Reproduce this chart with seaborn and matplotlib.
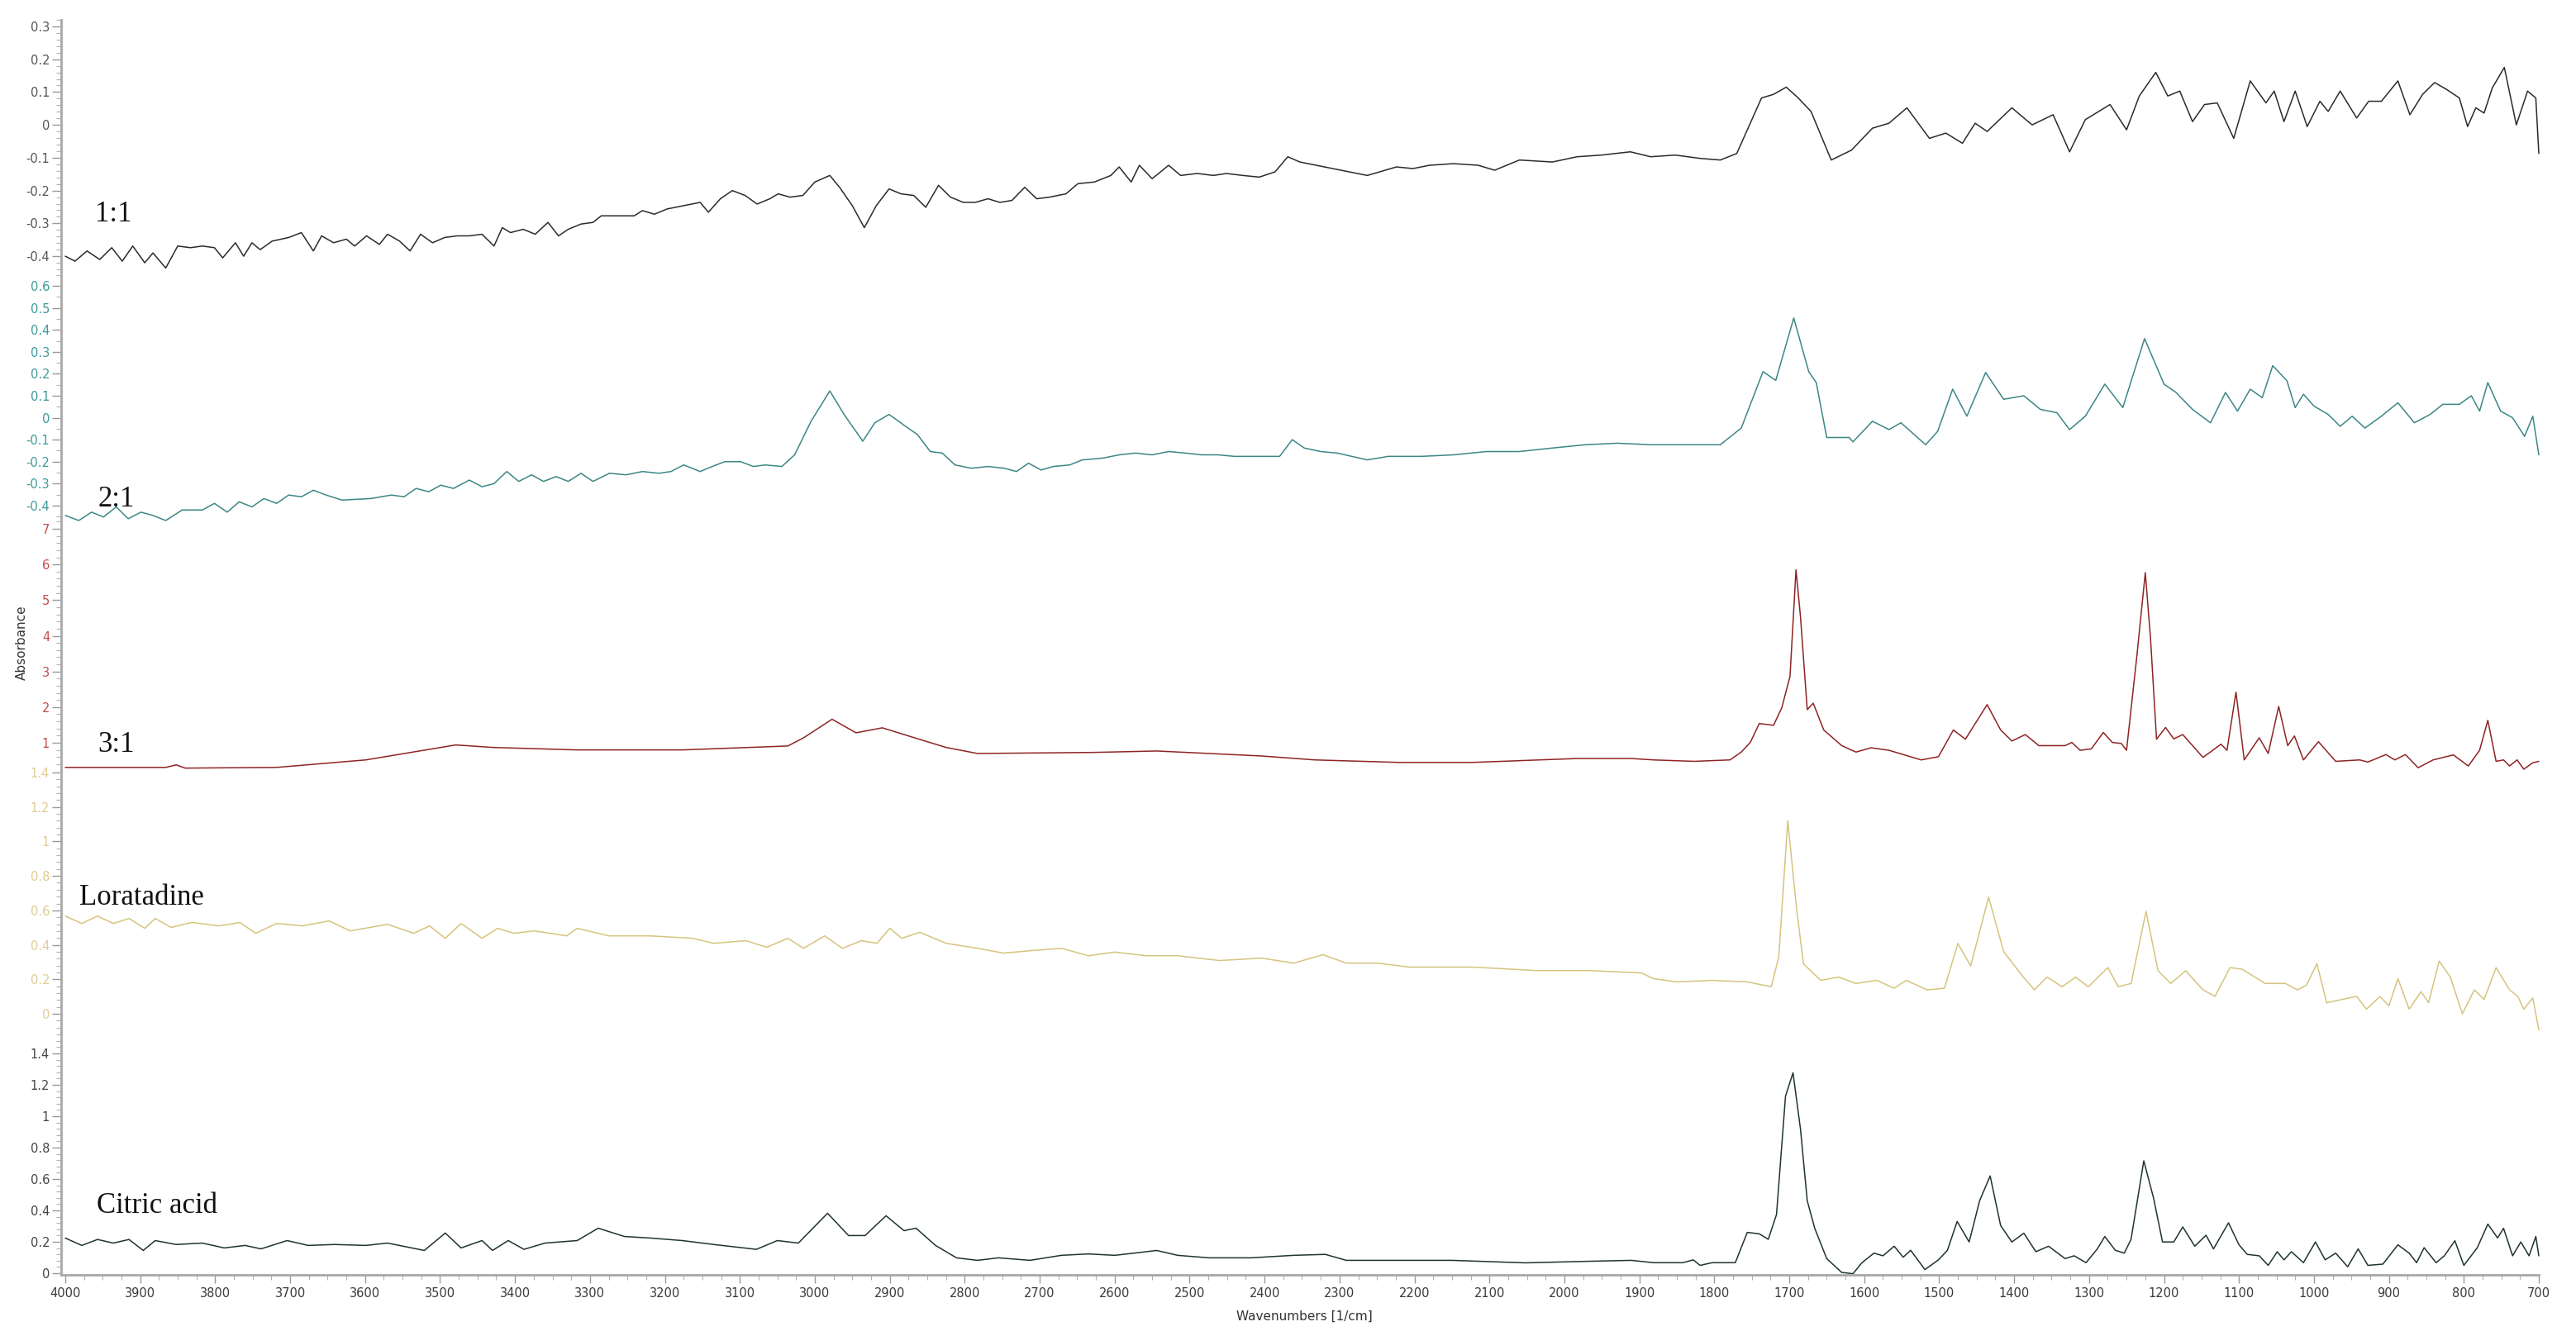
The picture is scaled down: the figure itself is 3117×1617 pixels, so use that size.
import numpy as np
import pandas as pd
import matplotlib
matplotlib.use('Agg')
import matplotlib.pyplot as plt
from matplotlib.ticker import AutoMinorLocator, MultipleLocator
import seaborn as sns

# FTIR spectra, values (wavenumber in 1/cm, absorbance)
wn_11 = [4000, 3987, 3971, 3954, 3938, 3924, 3910, 3894, 3883, 3866, 3850, 3833, 3817, 3801, 3790,
         3773, 3762, 3751, 3740, 3724, 3702, 3685, 3669, 3658, 3642, 3625, 3614, 3598, 3581, 3570,
         3554, 3540, 3526, 3510, 3494, 3477, 3461, 3444, 3428, 3417, 3406, 3389, 3373, 3356, 3342,
         3329, 3312, 3296, 3285, 3263, 3241, 3230, 3214, 3197, 3175, 3153, 3142, 3126, 3110, 3093,
         3077, 3060, 3049, 3033, 3016, 3000, 2980, 2967, 2950, 2934, 2918, 2901, 2885, 2868, 2852,
         2835, 2819, 2802, 2786, 2769, 2753, 2737, 2720, 2704, 2687, 2665, 2649, 2627, 2605, 2594,
         2578, 2567, 2550, 2528, 2512, 2490, 2468, 2451, 2429, 2407, 2386, 2369, 2353, 2331, 2309,
         2263, 2224, 2202, 2180, 2148, 2115, 2093, 2060, 2016, 1983, 1951, 1912, 1885, 1852, 1819,
         1792, 1770, 1753, 1737, 1721, 1704, 1688, 1671, 1644, 1617, 1589, 1567, 1543, 1513, 1491,
         1469, 1452, 1436, 1403, 1376, 1348, 1326, 1305, 1272, 1250, 1233, 1211, 1195, 1179, 1162,
         1146, 1129, 1107, 1085, 1064, 1053, 1040, 1025, 1009, 992, 981, 965, 943, 927, 910,
         888, 872, 855, 839, 823, 806, 795, 784, 773, 762, 746, 730, 715, 704, 700]
ab_11 = [-0.400, -0.415, -0.384, -0.410, -0.374, -0.415, -0.369, -0.420, -0.390, -0.436, -0.369, -0.374, -0.369, -0.374, -0.405,
         -0.359, -0.400, -0.359, -0.380, -0.354, -0.343, -0.328, -0.384, -0.338, -0.359, -0.348, -0.369, -0.338, -0.364, -0.333,
         -0.354, -0.384, -0.333, -0.359, -0.343, -0.338, -0.338, -0.333, -0.369, -0.313, -0.328, -0.318, -0.333, -0.297, -0.338,
         -0.318, -0.302, -0.297, -0.277, -0.277, -0.277, -0.261, -0.272, -0.256, -0.246, -0.236, -0.266, -0.225, -0.200, -0.215,
         -0.241, -0.225, -0.210, -0.220, -0.215, -0.174, -0.154, -0.190, -0.246, -0.313, -0.246, -0.195, -0.210, -0.215, -0.251,
         -0.184, -0.220, -0.236, -0.236, -0.225, -0.236, -0.230, -0.190, -0.225, -0.220, -0.210, -0.179, -0.174, -0.154, -0.128,
         -0.174, -0.123, -0.164, -0.123, -0.154, -0.148, -0.154, -0.148, -0.154, -0.159, -0.143, -0.097, -0.113, -0.123, -0.133,
         -0.154, -0.128, -0.133, -0.123, -0.118, -0.123, -0.138, -0.107, -0.113, -0.097, -0.092, -0.082, -0.097, -0.092, -0.102,
         -0.107, -0.087, 0.000, 0.082, 0.093, 0.115, 0.082, 0.041, -0.107, -0.077, -0.010, 0.005, 0.052, -0.041, -0.025,
         -0.056, 0.005, -0.020, 0.052, 0.000, 0.031, -0.082, 0.016, 0.062, -0.015, 0.088, 0.160, 0.088, 0.103, 0.010,
         0.062, 0.067, -0.041, 0.134, 0.067, 0.103, 0.010, 0.103, -0.005, 0.072, 0.041, 0.103, 0.021, 0.072, 0.072,
         0.134, 0.031, 0.093, 0.129, 0.108, 0.082, -0.005, 0.052, 0.036, 0.113, 0.175, 0.000, 0.103, 0.082, -0.087]

wn_21 = [4000, 3982, 3965, 3949, 3932, 3916, 3899, 3883, 3866, 3844, 3817, 3801, 3784, 3768, 3751,
         3735, 3718, 3702, 3685, 3669, 3652, 3631, 3592, 3565, 3548, 3532, 3515, 3499, 3482, 3461,
         3444, 3428, 3411, 3395, 3378, 3362, 3345, 3329, 3312, 3296, 3274, 3252, 3230, 3208, 3192,
         3175, 3153, 3137, 3120, 3099, 3082, 3066, 3044, 3027, 3005, 2980, 2961, 2936, 2920, 2901,
         2879, 2863, 2846, 2830, 2813, 2791, 2769, 2747, 2731, 2715, 2698, 2682, 2660, 2643, 2616,
         2594, 2572, 2550, 2528, 2506, 2484, 2462, 2440, 2418, 2396, 2380, 2363, 2347, 2325, 2303,
         2263, 2235, 2191, 2148, 2104, 2060, 2016, 1972, 1929, 1885, 1841, 1792, 1764, 1735, 1718,
         1694, 1674, 1664, 1650, 1620, 1615, 1589, 1567, 1551, 1518, 1502, 1482, 1463, 1438, 1414,
         1387, 1365, 1343, 1326, 1305, 1279, 1255, 1226, 1200, 1184, 1162, 1138, 1118, 1102, 1085,
         1069, 1055, 1036, 1025, 1014, 1000, 981, 965, 949, 932, 910, 888, 866, 845, 828,
         806, 790, 779, 768, 751, 735, 719, 708, 700]
ab_21 = [-0.445, -0.468, -0.430, -0.452, -0.406, -0.460, -0.430, -0.445, -0.468, -0.420, -0.420, -0.390, -0.430, -0.383, -0.406,
         -0.368, -0.390, -0.352, -0.360, -0.330, -0.352, -0.375, -0.368, -0.352, -0.360, -0.322, -0.337, -0.307, -0.322, -0.284,
         -0.314, -0.300, -0.245, -0.290, -0.260, -0.290, -0.268, -0.290, -0.253, -0.290, -0.253, -0.260, -0.245, -0.253, -0.245,
         -0.215, -0.245, -0.222, -0.200, -0.200, -0.222, -0.215, -0.222, -0.169, -0.016, 0.122, 0.015, -0.107, -0.023, 0.015,
         -0.039, -0.077, -0.154, -0.161, -0.215, -0.230, -0.222, -0.230, -0.245, -0.207, -0.238, -0.222, -0.215, -0.192, -0.184,
         -0.169, -0.161, -0.169, -0.154, -0.161, -0.169, -0.169, -0.176, -0.176, -0.176, -0.176, -0.100, -0.138, -0.154, -0.161,
         -0.192, -0.176, -0.176, -0.169, -0.154, -0.154, -0.138, -0.123, -0.116, -0.123, -0.123, -0.123, -0.047, 0.210, 0.170,
         0.454, 0.210, 0.160, -0.090, -0.090, -0.110, -0.016, -0.054, -0.023, -0.123, -0.062, 0.130, 0.007, 0.206, 0.084,
         0.100, 0.038, 0.023, -0.054, 0.007, 0.153, 0.046, 0.360, 0.153, 0.115, 0.038, -0.023, 0.115, 0.030, 0.130,
         0.091, 0.237, 0.168, 0.046, 0.107, 0.053, 0.015, -0.039, 0.007, -0.047, 0.007, 0.068, -0.023, 0.015, 0.061,
         0.061, 0.100, 0.030, 0.160, 0.030, 0.000, -0.085, 0.007, -0.169]

wn_31 = [4000, 3866, 3852, 3840, 3718, 3599, 3479, 3430, 3317, 3177, 3036, 3015, 2977, 2945, 2910,
         2867, 2825, 2783, 2628, 2544, 2474, 2404, 2333, 2221, 2122, 1982, 1911, 1881, 1827, 1779,
         1764, 1752, 1740, 1721, 1710, 1699, 1691, 1685, 1676, 1668, 1654, 1630, 1611, 1591, 1567,
         1524, 1501, 1481, 1465, 1436, 1418, 1403, 1385, 1367, 1332, 1323, 1312, 1297, 1281, 1269,
         1257, 1250, 1236, 1225, 1218, 1210, 1198, 1187, 1175, 1148, 1124, 1116, 1104, 1093, 1073,
         1061, 1047, 1035, 1026, 1014, 994, 971, 939, 928, 904, 892, 878, 861, 841, 814,
         794, 779, 768, 757, 747, 739, 729, 720, 708, 700]
ab_31 = [0.31, 0.31, 0.38, 0.29, 0.31, 0.52, 0.94, 0.87, 0.80, 0.80, 0.91, 1.14, 1.66, 1.28, 1.42,
         1.14, 0.87, 0.70, 0.73, 0.77, 0.70, 0.63, 0.52, 0.45, 0.45, 0.56, 0.56, 0.52, 0.48, 0.52,
         0.74, 1.01, 1.54, 1.49, 1.98, 2.86, 5.85, 4.53, 1.93, 2.11, 1.36, 0.92, 0.74, 0.86, 0.79,
         0.52, 0.61, 1.36, 1.10, 2.07, 1.36, 1.05, 1.23, 0.92, 0.92, 1.01, 0.79, 0.83, 1.29, 1.01,
         0.98, 0.79, 3.48, 5.77, 3.92, 1.10, 1.43, 1.11, 1.23, 0.59, 0.96, 0.79, 2.42, 0.52, 1.14,
         0.70, 2.02, 0.92, 1.19, 0.52, 1.03, 0.48, 0.52, 0.46, 0.67, 0.52, 0.67, 0.30, 0.52, 0.66,
         0.35, 0.79, 1.63, 0.48, 0.52, 0.35, 0.52, 0.26, 0.44, 0.48]

wn_lor = [4000, 3978, 3957, 3936, 3915, 3894, 3880, 3859, 3831, 3795, 3767, 3746, 3718, 3683, 3648,
          3620, 3570, 3535, 3514, 3493, 3472, 3444, 3423, 3402, 3374, 3331, 3317, 3275, 3219, 3163,
          3135, 3092, 3064, 3036, 3015, 2987, 2963, 2938, 2917, 2900, 2884, 2860, 2825, 2783, 2748,
          2713, 2671, 2635, 2600, 2558, 2516, 2460, 2404, 2361, 2322, 2291, 2249, 2207, 2122, 2038,
          1968, 1897, 1881, 1850, 1803, 1756, 1724, 1714, 1702, 1690, 1681, 1658, 1634, 1611, 1583,
          1560, 1544, 1516, 1493, 1475, 1458, 1434, 1414, 1391, 1373, 1356, 1336, 1318, 1301, 1275,
          1261, 1244, 1224, 1208, 1191, 1171, 1148, 1132, 1112, 1096, 1065, 1038, 1022, 1010, 996,
          983, 963, 943, 930, 912, 900, 888, 873, 857, 847, 833, 818, 802, 786, 773,
          757, 739, 728, 720, 708, 700]
ab_lor = [0.567, 0.524, 0.567, 0.524, 0.553, 0.496, 0.553, 0.501, 0.530, 0.510, 0.530, 0.467, 0.524, 0.510, 0.539,
          0.481, 0.519, 0.467, 0.510, 0.438, 0.524, 0.438, 0.496, 0.467, 0.481, 0.452, 0.496, 0.452, 0.452, 0.438,
          0.409, 0.424, 0.386, 0.438, 0.380, 0.452, 0.380, 0.424, 0.409, 0.496, 0.438, 0.473, 0.409, 0.380, 0.352,
          0.366, 0.380, 0.337, 0.358, 0.337, 0.337, 0.309, 0.323, 0.294, 0.343, 0.294, 0.294, 0.271, 0.271, 0.251,
          0.251, 0.237, 0.204, 0.185, 0.194, 0.185, 0.157, 0.330, 1.120, 0.600, 0.290, 0.194, 0.213, 0.176, 0.194,
          0.148, 0.194, 0.139, 0.148, 0.408, 0.278, 0.677, 0.361, 0.231, 0.139, 0.213, 0.157, 0.213, 0.157, 0.268,
          0.157, 0.176, 0.594, 0.250, 0.176, 0.250, 0.139, 0.101, 0.268, 0.259, 0.176, 0.176, 0.139, 0.166, 0.291,
          0.064, 0.083, 0.101, 0.027, 0.101, 0.046, 0.204, 0.027, 0.129, 0.064, 0.306, 0.213, 0.000, 0.139, 0.083,
          0.268, 0.139, 0.101, 0.027, 0.092, -0.094]

wn_cit = [4000, 3978, 3957, 3936, 3915, 3896, 3880, 3852, 3817, 3788, 3760, 3739, 3704, 3676, 3641,
          3599, 3570, 3521, 3493, 3472, 3444, 3430, 3409, 3388, 3360, 3317, 3289, 3254, 3219, 3177,
          3135, 3078, 3050, 3022, 2983, 2955, 2933, 2905, 2881, 2865, 2839, 2811, 2783, 2755, 2713,
          2671, 2635, 2600, 2572, 2544, 2516, 2474, 2418, 2361, 2319, 2291, 2221, 2150, 2052, 1968,
          1911, 1881, 1842, 1828, 1819, 1803, 1772, 1756, 1740, 1728, 1717, 1705, 1695, 1685, 1676,
          1666, 1650, 1630, 1615, 1603, 1587, 1575, 1560, 1548, 1538, 1519, 1501, 1489, 1476, 1460,
          1446, 1432, 1418, 1403, 1387, 1371, 1354, 1332, 1320, 1304, 1289, 1279, 1265, 1253, 1244,
          1227, 1214, 1202, 1187, 1175, 1159, 1144, 1134, 1114, 1100, 1089, 1073, 1061, 1049, 1040,
          1030, 1014, 998, 985, 971, 955, 941, 928, 908, 888, 873, 863, 853, 837, 826,
          812, 800, 782, 768, 755, 747, 735, 724, 713, 704, 700]
ab_cit = [0.224, 0.177, 0.215, 0.192, 0.215, 0.145, 0.208, 0.183, 0.192, 0.161, 0.177, 0.155, 0.208, 0.177, 0.183,
          0.177, 0.192, 0.145, 0.256, 0.161, 0.208, 0.145, 0.208, 0.152, 0.192, 0.208, 0.287, 0.234, 0.224, 0.208,
          0.183, 0.152, 0.208, 0.192, 0.382, 0.240, 0.240, 0.366, 0.271, 0.287, 0.177, 0.098, 0.082, 0.098, 0.082,
          0.114, 0.123, 0.114, 0.129, 0.145, 0.114, 0.098, 0.098, 0.114, 0.120, 0.082, 0.082, 0.082, 0.066, 0.076,
          0.082, 0.067, 0.067, 0.085, 0.050, 0.067, 0.067, 0.260, 0.251, 0.216, 0.374, 1.128, 1.277, 0.918, 0.462,
          0.286, 0.093, 0.005, -0.003, 0.067, 0.128, 0.111, 0.172, 0.102, 0.146, 0.023, 0.085, 0.146, 0.330, 0.199,
          0.462, 0.620, 0.304, 0.199, 0.255, 0.137, 0.172, 0.093, 0.111, 0.067, 0.155, 0.234, 0.146, 0.128, 0.216,
          0.716, 0.479, 0.199, 0.199, 0.295, 0.172, 0.242, 0.155, 0.321, 0.181, 0.120, 0.111, 0.050, 0.137, 0.085,
          0.137, 0.067, 0.199, 0.085, 0.128, 0.041, 0.155, 0.050, 0.058, 0.181, 0.128, 0.067, 0.163, 0.067, 0.111,
          0.207, 0.050, 0.163, 0.313, 0.225, 0.286, 0.111, 0.199, 0.111, 0.234, 0.111]

names = ['1:1', '2:1', '3:1', 'Loratadine', 'Citric acid']
spectra = [(wn_11, ab_11), (wn_21, ab_21), (wn_31, ab_31), (wn_lor, ab_lor), (wn_cit, ab_cit)]
yticks = [[0.3, 0.2, 0.1, 0, -0.1, -0.2, -0.3, -0.4],
          [0.6, 0.5, 0.4, 0.3, 0.2, 0.1, 0, -0.1, -0.2, -0.3, -0.4],
          [7, 6, 5, 4, 3, 2, 1],
          [1.4, 1.2, 1, 0.8, 0.6, 0.4, 0.2, 0],
          [1.4, 1.2, 1, 0.8, 0.6, 0.4, 0.2, 0]]
xticks = list(range(4000, 699, -100))

line_colors = ['#2b2b2b', '#3d8686', '#8e2424', '#d6c47e', '#1f3333']
tick_colors = ['#555555', '#3e9a9a', '#c24b4b', '#e0cc94', '#454545']

sns.set_style('white')
plt.rcParams['font.family'] = ['DejaVu Sans']
plt.rcParams['axes.unicode_minus'] = False

W, H = 3117, 1617
fig = plt.figure(figsize=(W / 100, H / 100), dpi=100)

# panel layout in pixels (top, bottom) and y ranges so the ticks land where they are in the original
panel_px = [(24, 328), (328, 626), (626, 932), (932, 1250), (1250, 1543)]
ylims = [(-0.445, 0.320), (-0.453, 0.668), (0.236, 7.324), (-0.110, 1.414), (-0.0105, 1.532)]
minor_n = [5, 2, 5, 5, 5]
label_pos = [(115, 260), (118, 604), (118, 902), (96, 1086), (117, 1459)]
x_left, x_right = 74, 3072

for i, (wn, ab) in enumerate(spectra):
    top, bot = panel_px[i]
    ax = fig.add_axes([x_left / W, 1 - bot / H, (x_right - x_left) / W, (bot - top) / H])
    ax.patch.set_alpha(0)
    df = pd.DataFrame({'wavenumber': wn, 'absorbance': ab})
    sns.lineplot(data=df, x='wavenumber', y='absorbance', ax=ax, color=line_colors[i],
                 linewidth=1.1, estimator=None, sort=False)
    for ln in ax.lines:
        ln.set_clip_on(False)
    ax.set_xlim(4005.5, 700)
    ax.set_ylim(*ylims[i])
    ax.set_yticks(yticks[i])
    ax.set_yticklabels([f'{t:g}' for t in yticks[i]])
    ax.yaxis.set_minor_locator(AutoMinorLocator(minor_n[i]))
    ax.tick_params(axis='y', which='major', left=True, length=8, width=1, color='#9a9a9a',
                   labelcolor=tick_colors[i], labelsize=10.5, pad=2)
    ax.tick_params(axis='y', which='minor', left=True, length=4, width=0.8, color='#b0b0b0')
    ax.set_xlabel('')
    ax.set_ylabel('')
    for s in ['top', 'right']:
        ax.spines[s].set_visible(False)
    ax.spines['left'].set_color('#a8a8a8')
    ax.spines['left'].set_linewidth(2)
    if i < 4:
        ax.spines['bottom'].set_visible(False)
        ax.set_xticks([])
    else:
        ax.spines['bottom'].set_color('#a8a8a8')
        ax.spines['bottom'].set_linewidth(2)
        ax.set_xticks(xticks)
        ax.set_xticklabels([str(t) for t in xticks])
        ax.xaxis.set_minor_locator(MultipleLocator(25))
        ax.tick_params(axis='x', which='major', bottom=True, length=7, width=1, color='#9a9a9a',
                       labelcolor='#3a3a3a', labelsize=10.5, pad=4)
        ax.tick_params(axis='x', which='minor', bottom=True, length=4, width=0.8, color='#b0b0b0')

    lx, ly = label_pos[i]
    fig.text(lx / W, 1 - ly / H, names[i], ha='left', va='center', fontsize=25,
             family='Liberation Serif', color='#111111')

fig.text(26 / W, 1 - 778 / H, 'Absorbance', rotation=90, ha='center', va='center',
         fontsize=11, color='#333333')
fig.text(1578 / W, 1 - 1593 / H, 'Wavenumbers [1/cm]', ha='center', va='center',
         fontsize=11, color='#333333')

fig.savefig('out.png', dpi=100)
